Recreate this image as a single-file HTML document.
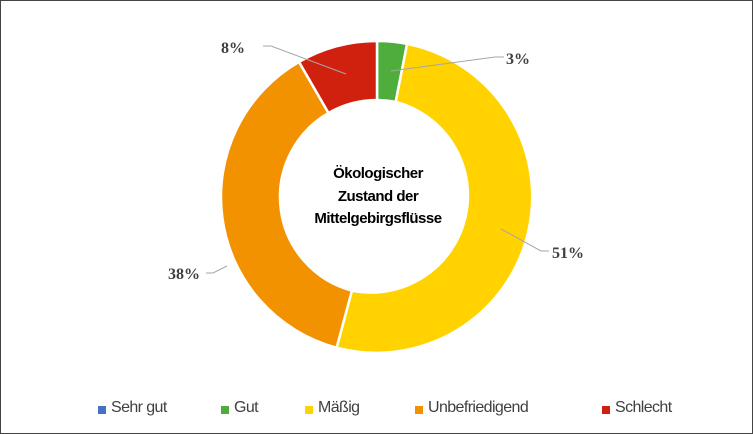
<!DOCTYPE html>
<html><head><meta charset="utf-8"><style>
body{margin:0;background:#fff}
#c{position:relative;width:751px;height:432px;border:1px solid #444;overflow:hidden;font-family:"Liberation Sans",sans-serif}
.l{position:absolute;font-size:16px;color:#404040;top:398px;letter-spacing:-0.6px}
.m{position:absolute;width:8px;height:8px;top:405px}
</style></head><body><div id="c">
<svg width="751" height="432" style="position:absolute;left:0;top:0">
<g transform="translate(376,196)" stroke="#fff" stroke-width="2.5">
<path d="M0,-156 A156,156 0 0 1 30.1,-153.1 L18.7,-95.2 A97,97 0 0 0 0,-97Z" fill="#4fad3c"/>
<path d="M30.1,-153.1 A156,156 0 1 1 -40.4,150.7 L-25.1,93.7 A97,97 0 0 0 18.7,-95.2Z" fill="#ffd200"/>
<path d="M-40.4,150.7 A156,156 0 0 1 -78,-135.1 L-48.5,-84 A97,97 0 0 0 -25.1,93.7Z" fill="#f39200"/>
<path d="M-78,-135.1 A156,156 0 0 1 0,-156 L0,-97 A97,97 0 0 0 -48.5,-84Z" fill="#d0210f"/>
</g>
<g stroke="#a6a6a6" stroke-width="1" fill="none">
<polyline points="262,45 270,45 345,73"/>
<polyline points="503,56 494,56 390,70"/>
<polyline points="548,250 540,250 500,228"/>
<polyline points="205,272 212,272 226,265"/>
</g>
<g font-family="Liberation Serif,serif" font-weight="bold" font-size="16" fill="#404040">
<text x="220" y="52">8%</text>
<text x="505" y="63">3%</text>
<text x="551" y="257">51%</text>
<text x="167" y="278">38%</text>
</g>
<g font-family="Liberation Sans,sans-serif" font-weight="bold" font-size="15" fill="#000" text-anchor="middle" letter-spacing="-0.5">
<text x="377" y="177">Ökologischer</text>
<text x="377" y="200">Zustand der</text>
<text x="377" y="222">Mittelgebirgsflüsse</text>
</g>
</svg>
<div class="m" style="left:97px;background:#4472c4"></div><div class="l" style="left:110px">Sehr gut</div>
<div class="m" style="left:220px;background:#4fad3c"></div><div class="l" style="left:233px">Gut</div>
<div class="m" style="left:304px;background:#ffd200"></div><div class="l" style="left:317px">Mäßig</div>
<div class="m" style="left:414px;background:#f39200"></div><div class="l" style="left:427px">Unbefriedigend</div>
<div class="m" style="left:601px;background:#d0210f"></div><div class="l" style="left:614px">Schlecht</div>
</div></body></html>
